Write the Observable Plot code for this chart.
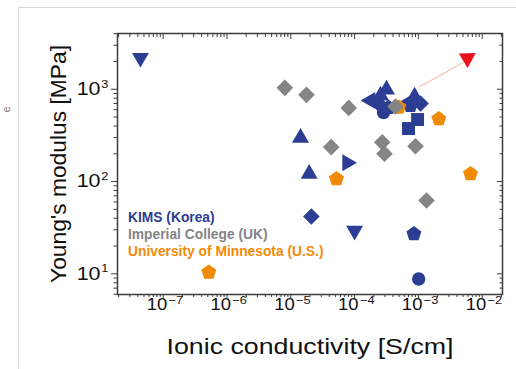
<!DOCTYPE html>
<html><head><meta charset="utf-8">
<script src="https://cdn.jsdelivr.net/npm/d3@7"></script>
<script src="https://cdn.jsdelivr.net/npm/@observablehq/plot@0.6"></script>
<style>
html,body{margin:0;padding:0;background:#fff;}
#wrap{position:relative;width:516px;height:369px;overflow:hidden;font-family:Arial,"Liberation Sans",sans-serif;background:#fff;}
#border{position:absolute;left:18px;top:7px;right:-2px;bottom:-2px;border-top:1px solid #d6d6d6;border-left:1px solid #d6d6d6;}
#frag{position:absolute;left:3px;top:104px;font-size:11px;line-height:11px;color:#808080;transform:rotate(-90deg);}
#chart{position:absolute;left:0;top:0;}
#legend{position:absolute;left:128px;top:209px;font-size:13.8px;font-weight:bold;line-height:17.2px;white-space:nowrap;}
</style></head><body>
<div id="wrap"><div id="border"></div><span id="frag">e</span><div id="chart"></div><div id="legend"></div></div>
<script>
// ---- data ----
const groups = ["KIMS (Korea)", "Imperial College (UK)", "University of Minnesota (U.S.)"];
const groupColors = ["#2c3d94", "#858585", "#f18a07"];

const kimsConductivity = [4.4e-8, 1.42e-5, 1.94e-5, 2.1e-5, 7.66e-5, 1.0e-4, 8.5e-4, 1.01e-3,
  3.16e-4, 2.55e-4, 1.77e-4, 2.37e-4, 2.84e-4, 3.4e-4,
  8.7e-4, 1.08e-3, 7.5e-4, 6.5e-4, 9.7e-4, 7.0e-4];
const kimsModulus = [2190, 297, 121, 41.8, 160, 29.4, 27.1, 8.8,
  990, 855, 755, 700, 560, 634,
  834, 700, 666, 700, 470, 375];
const kimsMarker = ["down", "up", "up", "diamond", "right", "down", "pentagon", "circle",
  "up", "up", "left", "diamond", "circle", "pentagon",
  "up", "diamond", "pentagon", "left", "square", "square"];

const imperialConductivity = [8.05e-6, 1.76e-5, 8.1e-5, 4.3e-5, 2.71e-4, 2.94e-4, 9.0e-4, 1.34e-3, 4.38e-4];
const imperialModulus = [1035, 869, 628, 236, 266, 200, 241, 62.3, 650];

const umnConductivity = [5.19e-7, 5.2e-5, 2.09e-3, 6.56e-3, 4.93e-4];
const umnModulus = [10.4, 107, 477, 121, 638];

const highlightConductivity = [5.86e-3];
const highlightModulus = [2173];
const arrowFromConductivity = [1.01e-3], arrowFromModulus = [1051];
const arrowToConductivity = [5.15e-3], arrowToModulus = [1963];

const xTickValues = [1e-7, 1e-6, 1e-5, 1e-4, 1e-3, 1e-2];
const xTickExponents = ["−7", "−6", "−5", "−4", "−3", "−2"];
const yTickValues = [10, 100, 1000];
const yTickExponents = ["1", "2", "3"];
const xTitle = "Ionic conductivity [S/cm]";
const yTitle = "Young's modulus [MPa]";

// ---- styles ----
const axisColor = "#3c3c3c";
const textColor = "#111";
const highlightColor = "#e8121c";
const arrowColor = "#f6b29a";
const scaled = (sym, k) => ({draw(ctx, size) { sym.draw(ctx, size * k * k); }});
const pentagonSym = {draw(ctx, size) {
  const R = Math.sqrt(size / Math.PI) * 1.05;
  for (let i = 0; i < 5; i++) {
    const a = -Math.PI / 2 + i * 2 * Math.PI / 5;
    const px = R * Math.cos(a), py = R * Math.sin(a);
    if (i) ctx.lineTo(px, py); else ctx.moveTo(px, py);
  }
  ctx.closePath();
}};
const circleSym = {draw(ctx, size) {
  const r = Math.sqrt(size / Math.PI) * 0.89;
  ctx.moveTo(r, 0); ctx.arc(0, 0, r, 0, 2 * Math.PI);
}};
const tri = scaled(d3.symbolTriangle2, 1.08);
const markerStyle = {
  up: {symbol: tri, rotate: 0},
  down: {symbol: tri, rotate: 180},
  right: {symbol: tri, rotate: 90},
  left: {symbol: tri, rotate: -90},
  diamond: {symbol: d3.symbolDiamond2, rotate: 0},
  square: {symbol: scaled(d3.symbolSquare2, 1.1), rotate: 0},
  circle: {symbol: circleSym, rotate: 0},
  pentagon: {symbol: pentagonSym, rotate: 0}
};

const kims = kimsConductivity.map((c, i) => ({c, m: kimsModulus[i], marker: kimsMarker[i]}));
const imperial = imperialConductivity.map((c, i) => ({c, m: imperialModulus[i], marker: "diamond"}));
const umn = umnConductivity.map((c, i) => ({c, m: umnModulus[i], marker: "pentagon"}));
const highlight = highlightConductivity.map((c, i) => ({c, m: highlightModulus[i]}));
const arrows = arrowFromConductivity.map((c, i) => ({x1: c, y1: arrowFromModulus[i], x2: arrowToConductivity[i], y2: arrowToModulus[i]}));

function groupDots(data, color) {
  const types = [...new Set(data.map(d => d.marker))];
  return types.map(t => Plot.dot(data.filter(d => d.marker === t), {
    x: "c", y: "m", r: 7.5, symbol: markerStyle[t].symbol, rotate: markerStyle[t].rotate,
    fill: color, stroke: "none"
  }));
}

const xDomain = [10 ** -7.716, 10 ** -1.682];
const yDomain = [10 ** 0.776, 10 ** 3.604];
const minorIn = (dom, exps) => exps.flatMap(e => [2,3,4,5,6,7,8,9].map(k => k * 10 ** e)).filter(v => v > dom[0] && v < dom[1]);
const xMinor = minorIn(xDomain, [-8, -7, -6, -5, -4, -3, -2]);
const yMinor = minorIn(yDomain, [0, 1, 2, 3]);

const noText = () => "";
const chart = Plot.plot({
  width: 516, height: 369,
  marginLeft: 117, marginRight: 14, marginTop: 33, marginBottom: 75,
  x: {type: "log", domain: xDomain, label: null},
  y: {type: "log", domain: yDomain, label: null},
  style: {fontFamily: "Arial, 'Liberation Sans', sans-serif", background: "transparent", color: textColor},
  marks: [
    Plot.axisX(xTickValues, {anchor: "bottom", tickSize: 5, tickFormat: noText, label: null, stroke: axisColor}),
    Plot.axisX(xMinor, {anchor: "bottom", tickSize: 3, tickFormat: noText, label: null, stroke: axisColor}),
    Plot.axisX(xTickValues, {anchor: "top", tickSize: -5, tickFormat: noText, label: null, stroke: axisColor}),
    Plot.axisX(xMinor, {anchor: "top", tickSize: -3, tickFormat: noText, label: null, stroke: axisColor}),
    Plot.axisY(yTickValues, {anchor: "left", tickSize: 6, tickFormat: noText, label: null, stroke: axisColor}),
    Plot.axisY(yMinor, {anchor: "left", tickSize: 3.5, tickFormat: noText, label: null, stroke: axisColor}),
    Plot.axisY(yTickValues, {anchor: "right", tickSize: -6, tickFormat: noText, label: null, stroke: axisColor}),
    Plot.axisY(yMinor, {anchor: "right", tickSize: -3.5, tickFormat: noText, label: null, stroke: axisColor}),
    // tick labels
    Plot.text(xTickValues, {x: d => d, text: () => "10", frameAnchor: "bottom", textAnchor: "end", lineAnchor: "bottom", dx: 4, dy: 15.5, fontSize: 16.5, fill: textColor, ariaDescription: "sx1.12"}),
    Plot.text(xTickValues, {x: d => d, text: (d, i) => xTickExponents[i], frameAnchor: "bottom", textAnchor: "start", lineAnchor: "bottom", dx: 5.3, dy: 9, fontSize: 11.5, fill: textColor, ariaDescription: "sx1.12"}),
    Plot.text(yTickValues, {y: d => d, text: () => "10", frameAnchor: "left", textAnchor: "end", lineAnchor: "middle", dx: -17, fontSize: 18.5, fill: textColor, ariaDescription: "sx1.16"}),
    Plot.text(yTickValues, {y: d => d, text: (d, i) => yTickExponents[i], frameAnchor: "left", textAnchor: "start", lineAnchor: "bottom", dx: -16.3, dy: -1.5, fontSize: 11, fill: textColor, ariaDescription: "sx1.16"}),
    // titles
    Plot.text([xTitle], {text: d => d, frameAnchor: "bottom", textAnchor: "middle", lineAnchor: "bottom", dy: 59, fontSize: 21.5, fill: textColor, ariaDescription: "sx1.245"}),
    Plot.text([yTitle], {text: d => d, frameAnchor: "left", textAnchor: "middle", lineAnchor: "middle", rotate: -90, dx: -59, fontSize: 22.8, fill: textColor}),
    // data
    ...groupDots(kims, groupColors[0]),
    ...groupDots(umn, groupColors[2]),
    ...groupDots(imperial, groupColors[1]),
    Plot.link(arrows, {x1: "x1", y1: "y1", x2: "x2", y2: "y2", stroke: arrowColor, strokeWidth: 1}),
    Plot.dot(highlight, {x: "c", y: "m", r: 7.5, symbol: tri, rotate: 58.6, fill: highlightColor, stroke: "none"}),
    Plot.frame({stroke: axisColor, strokeWidth: 1.5})
  ]
});
// horizontal stretch of label glyphs (the reference text is slightly wide)
chart.querySelectorAll("g[aria-description^='sx']").forEach(g => {
  const s = g.getAttribute("aria-description").slice(2);
  g.querySelectorAll("text").forEach(t => {
    const tr = t.getAttribute("transform");
    if (tr) {
      t.setAttribute("transform", `${tr} scale(${s},1)`);
    } else {
      const x = +(t.getAttribute("x") || 0), y = +(t.getAttribute("y") || 0);
      t.setAttribute("transform", `translate(${x},${y}) scale(${s},1) translate(${-x},${-y})`);
    }
  });
});
document.getElementById("chart").appendChild(chart);

const legend = document.getElementById("legend");
groups.forEach((g, i) => {
  const div = document.createElement("div");
  div.textContent = g;
  div.style.color = groupColors[i];
  legend.appendChild(div);
});
</script></body></html>
